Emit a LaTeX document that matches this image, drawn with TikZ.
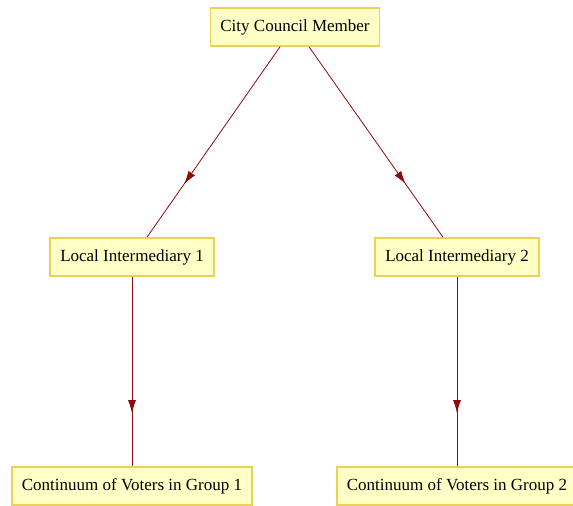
\documentclass[tikz,border=0pt]{standalone}
\usepackage{fontspec}
\setmainfont{Liberation Serif}
\usepackage{tikz}
\usetikzlibrary{positioning}
\usetikzlibrary{arrows.meta}
\usetikzlibrary{decorations.markings}

\definecolor{boxfill}{RGB}{255,255,198}
\definecolor{boxline}{RGB}{236,210,80}
\definecolor{linkred}{RGB}{140,10,10}

\tikzset{
	actor/.style={draw=boxline,
		fill=boxfill,
		line width=1.6pt,
		minimum height=38pt,
		inner xsep=10pt,
		font=\fontsize{17}{20}\selectfont},
	link/.style={draw=linkred,
		line width=0.8pt,
		postaction={decorate},
		decoration={markings,
			mark=at position 0.72 with {\arrow{Latex[length=13pt,width=8pt]}}}}
}

\begin{document}
\begin{tikzpicture}[x=1pt,y=1pt,text=black]
			\useasboundingbox (0,0) rectangle (573,-506);
			
			% Council member
			\node [actor] (ccm) at (295,-27) {City Council Member};
			
			% Intermediaries
			\node [actor] (li1) at (132,-257) {Local Intermediary 1};
			\node [actor] (li2) at (457,-257) {Local Intermediary 2};
			
			% Voter groups
			\node [actor] (vg1) at (132,-486) {Continuum of Voters in Group 1};
			\node [actor] (vg2) at (457,-486) {Continuum of Voters in Group 2};
			
			% Arrows
			\path[link] (ccm.south) ++(-15,0) -- (li1.north -| 147,0);
			\path[link] (ccm.south) ++(14,0) -- (li2.north -| 443,0);
			\path[link] (li1.south) -- (vg1.north);
			\path[link] (li2.south) -- (vg2.north);
		
		\end{tikzpicture}
\end{document}
